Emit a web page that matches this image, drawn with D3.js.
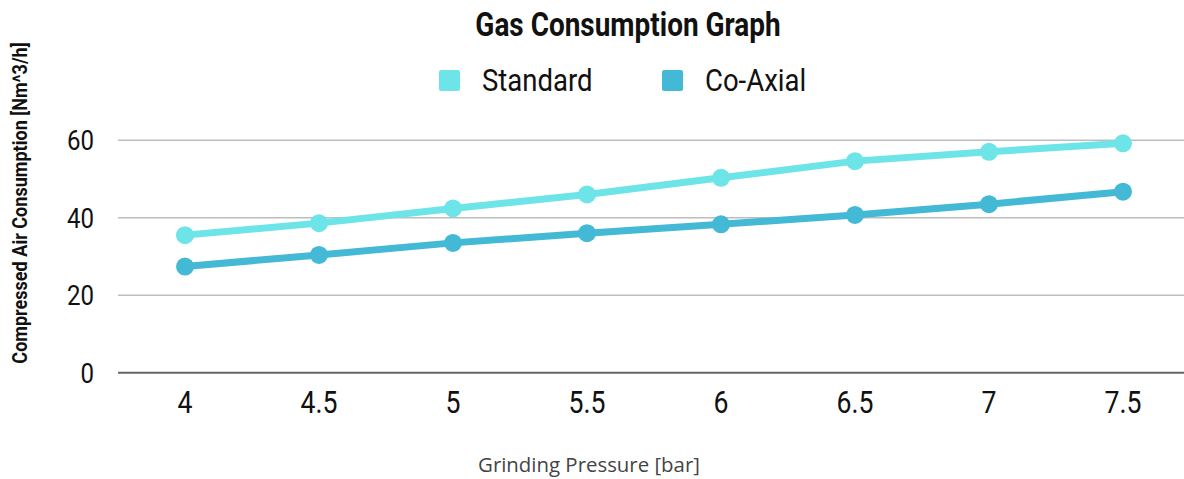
<!DOCTYPE html>
<html lang="en">
<head>
  <meta charset="UTF-8">
  <title>Gas Consumption Graph</title>
  <style>
    body { margin: 0; background: #fff; }
    svg { display: block; }
    .cond { font-family: 'Roboto', sans-serif; fill: #111; }
  </style>
</head>
<body>
  <svg width="1184" height="479"></svg>
  <script src="https://d3js.org/d3.v7.min.js"></script>
  <script>
    // data
    const pressures = ['4', '4.5', '5', '5.5', '6', '6.5', '7', '7.5'];
    const standard = [35.5, 38.6, 42.4, 46.0, 50.3, 54.6, 57.0, 59.2];
    const coAxial = [27.4, 30.4, 33.5, 36.0, 38.3, 40.7, 43.5, 46.7];
    const yTicks = [0, 20, 40, 60];
    const seriesNames = ['Standard', 'Co-Axial'];
    const seriesColors = ['#6de5e8', '#43b9d6'];

    const svg = d3.select('svg');
    const squeeze = 0.86; // fake a condensed face

    // Roboto squeezed horizontally around its anchor point
    function condText(x, y, txt, size, weight, anchor) {
      return svg.append('text')
        .attr('class', 'cond')
        .attr('transform', `translate(${x},${y}) scale(${squeeze},1)`)
        .attr('font-size', size)
        .attr('font-weight', weight)
        .attr('text-anchor', anchor)
        .text(txt);
    }

    // scales
    const x = d3.scaleBand().domain(pressures).range([118, 1190]);
    const y = d3.scaleLinear().domain([0, 60]).range([372.7, 140.2]);

    // grid
    svg.append('g').selectAll('line')
      .data(yTicks)
      .join('line')
      .attr('x1', 118).attr('x2', 1184)
      .attr('y1', d => y(d)).attr('y2', d => y(d))
      .attr('stroke', d => d === 0 ? '#666' : '#bdbdbd')
      .attr('stroke-width', d => d === 0 ? 2 : 1.6);

    // y tick labels
    yTicks.forEach(t => condText(94, y(t) + 10, t, 28, 400, 'end'));
    // x tick labels
    pressures.forEach(p => condText(x(p) + x.bandwidth() / 2, 413, p, 31, 400, 'middle'));

    // lines
    const line = d3.line()
      .x((d, i) => x(pressures[i]) + x.bandwidth() / 2)
      .y(d => y(d));

    [standard, coAxial].forEach((vals, k) => {
      svg.append('path')
        .datum(vals)
        .attr('d', line)
        .attr('fill', 'none')
        .attr('stroke', seriesColors[k])
        .attr('stroke-width', 7);
      svg.append('g').selectAll('circle')
        .data(vals)
        .join('circle')
        .attr('cx', (d, i) => x(pressures[i]) + x.bandwidth() / 2)
        .attr('cy', d => y(d))
        .attr('r', 9)
        .attr('fill', seriesColors[k]);
    });

    // title
    condText(628, 36, 'Gas Consumption Graph', 32.5, 700, 'middle');

    // legend
    const legendX = [439, 662];
    seriesNames.forEach((name, k) => {
      svg.append('rect')
        .attr('x', legendX[k]).attr('y', 70)
        .attr('width', 21).attr('height', 21)
        .attr('rx', 2)
        .attr('fill', seriesColors[k]);
      condText(legendX[k] + 43, 91, name, 32, 400, 'start');
    });

    // y axis title
    svg.append('text')
      .attr('class', 'cond')
      .attr('transform', `translate(27,203) rotate(-90) scale(${squeeze},1)`)
      .attr('font-size', 21)
      .attr('font-weight', 700)
      .attr('text-anchor', 'middle')
      .text('Compressed Air Consumption [Nm^3/h]');

    // x axis title
    svg.append('text')
      .attr('x', 589).attr('y', 472)
      .attr('font-family', "'Open Sans', sans-serif")
      .attr('font-size', 20.4)
      .attr('fill', '#444')
      .attr('text-anchor', 'middle')
      .text('Grinding Pressure [bar]');
  </script>
</body>
</html>
